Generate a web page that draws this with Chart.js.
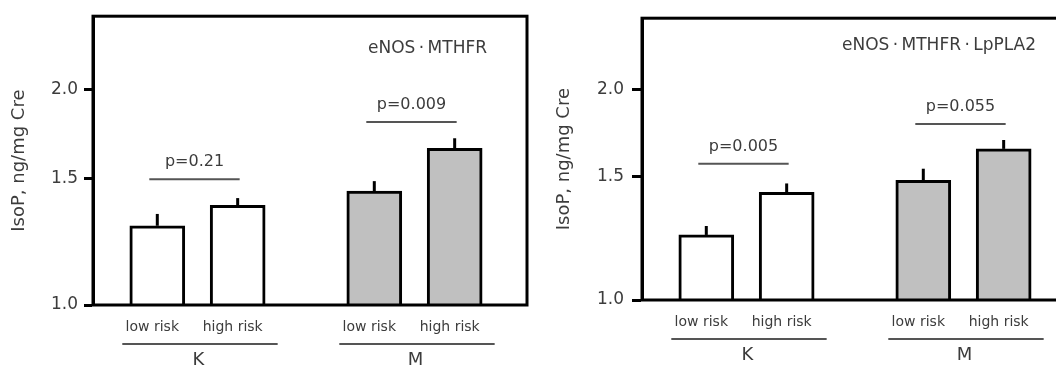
<!DOCTYPE html>
<html>
<head>
<meta charset="utf-8">
<script src="https://cdn.jsdelivr.net/npm/chart.js@4"></script>
<style>
  body { margin: 0; background: #ffffff; overflow: hidden; width: 1056px; height: 365px; position: relative; }
  .panel { position: absolute; top: 0; height: 365px; }
</style>
</head>
<body>
<div class="panel" style="left:0; width:540px;"><canvas id="chartLeft"></canvas></div>
<div class="panel" style="left:530px; width:560px;"><canvas id="chartRight"></canvas></div>
<script>
// ---------- data ---------- //
const riskLabels = ['low risk', 'high risk', 'low risk', 'high risk'];
const groupLabels = ['K', 'M'];
const barPositions = [1, 2, 3.7, 4.7];
const barColors = ['#ffffff', '#ffffff', '#c0c0c0', '#c0c0c0'];
const yTicks = [1.0, 1.5, 2.0];
const yTitle = 'IsoP, ng/mg Cre';

// left panel
const titleLeft = 'eNOS\u2009·\u2009MTHFR';
const meansLeft = [1.29, 1.378, 1.442, 1.655];
const errLeft = [0.05, 0.032, 0.047, 0.054];
const pTextLeft = ['p=0.21', 'p=0.009'];
const pLevelLeft = [1.498, 1.80];

// right panel
const titleRight = 'eNOS\u2009·\u2009MTHFR\u2009·\u2009LpPLA2';
const meansRight = [1.239, 1.426, 1.483, 1.645];
const errRight = [0.037, 0.042, 0.058, 0.049];
const pTextRight = ['p=0.005', 'p=0.055'];
const pLevelRight = [1.567, 1.785];

const FONT = 'DejaVu Sans';
const TEXT_COLOR = '#3c3c3c';
const LINE_GRAY = '#555555';

// ---------- helpers ---------- //

// Draws whiskers, frame, category labels, group bars and p-value brackets
function makeAnnotations(means, errs, pText, pLevel, title, titleDy)
{
  return {
    id: 'annotations',
    afterDraw(chart) {
      const ctx = chart.ctx;
      const xs = chart.scales.x;
      const ys = chart.scales.y;
      const area = chart.chartArea;
      ctx.save();

      // error whiskers (upper only)
      ctx.strokeStyle = '#000000';
      ctx.lineWidth = 3;
      for (let i = 0; i < means.length; i++) {
        const x = xs.getPixelForValue(barPositions[i]);
        ctx.beginPath();
        ctx.moveTo(x, ys.getPixelForValue(means[i]));
        ctx.lineTo(x, ys.getPixelForValue(means[i] + errs[i]));
        ctx.stroke();
      }

      // plot frame
      ctx.strokeRect(area.left, area.top, area.right - area.left, area.bottom - area.top);

      // category labels
      ctx.fillStyle = TEXT_COLOR;
      ctx.textAlign = 'center';
      ctx.textBaseline = 'middle';
      ctx.font = '14px "' + FONT + '"';
      for (let i = 0; i < riskLabels.length; i++) {
        ctx.fillText(riskLabels[i], xs.getPixelForValue(barPositions[i]) - 5, area.bottom + 22);
      }

      // group underlines and letters
      for (let g = 0; g < groupLabels.length; g++) {
        const x1 = xs.getPixelForValue(barPositions[2 * g]);
        const x2 = xs.getPixelForValue(barPositions[2 * g + 1]);
        ctx.strokeStyle = LINE_GRAY;
        ctx.lineWidth = 2;
        ctx.beginPath();
        ctx.moveTo(x1 - 35, area.bottom + 39);
        ctx.lineTo(x2 + 40, area.bottom + 39);
        ctx.stroke();
        ctx.font = '18px "' + FONT + '"';
        ctx.textBaseline = 'top';
        ctx.fillText(groupLabels[g], (x1 + x2) / 2 + 1, area.bottom + 46);

        // p-value bracket
        const py = ys.getPixelForValue(pLevel[g]);
        ctx.beginPath();
        ctx.moveTo(x1 - 8, py);
        ctx.lineTo(x2 + 2, py);
        ctx.stroke();
        ctx.font = '16px "' + FONT + '"';
        ctx.textBaseline = 'middle';
        ctx.fillText(pText[g], (x1 + x2) / 2 - 3, py - 17);
      }

      // panel title
      ctx.font = '17px "' + FONT + '"';
      ctx.textAlign = 'right';
      ctx.fillText(title, area.right - 40, area.top + titleDy);
      ctx.restore();
    }
  };
}

// Builds one panel of the figure
function displayPanel(canvasId, means, errs, pText, pLevel, title, layout)
{
  const ctx = document.getElementById(canvasId);
  new Chart(ctx, {
    type: 'bar',
    data: {
      datasets: [{
        data: barPositions.map((x, i) => ({ x: x, y: means[i] })),
        backgroundColor: barColors,
        borderColor: '#000000',
        borderWidth: 3,
        borderSkipped: 'start',
        barThickness: 55,
        base: 1
      }]
    },
    options: {
      responsive: true,
      maintainAspectRatio: false,
      animation: false,
      events: [],
      layout: {
        padding: { left: 0, top: 16, right: layout.padRight, bottom: layout.padBottom }
      },
      plugins: {
        legend: { display: false },
        tooltip: { enabled: false }
      },
      scales: {
        x: {
          type: 'linear',
          display: false,
          offset: false,
          min: 0.2,
          max: 5.6
        },
        y: {
          type: 'logarithmic',
          min: 1,
          max: 2.53,
          afterBuildTicks: function (scale) {
            scale.ticks = yTicks.map(v => ({ value: v }));
          },
          afterFit: function (scale) {
            scale.width = layout.axisWidth;
          },
          ticks: {
            callback: v => Number(v).toFixed(1),
            color: TEXT_COLOR,
            padding: layout.tickPad,
            font: { family: FONT, size: 17 }
          },
          grid: {
            drawOnChartArea: false,
            drawTicks: true,
            tickLength: layout.tickLen,
            tickWidth: 3,
            tickColor: '#000000'
          },
          border: { display: true, color: '#000000', width: 3 },
          title: {
            display: true,
            text: yTitle,
            color: TEXT_COLOR,
            padding: { top: layout.titlePad, bottom: 0 },
            font: { family: FONT, size: 18 }
          }
        }
      }
    },
    plugins: [makeAnnotations(means, errs, pText, pLevel, title, layout.titleDy)]
  });
}

displayPanel('chartLeft', meansLeft, errLeft, pTextLeft, pLevelLeft, titleLeft,
  { axisWidth: 93, padRight: 13, padBottom: 60, tickLen: 9, tickPad: 6, titlePad: 9, titleDy: 32 });
displayPanel('chartRight', meansRight, errRight, pTextRight, pLevelRight, titleRight,
  { axisWidth: 112, padRight: 14, padBottom: 65, tickLen: 10, tickPad: 8, titlePad: 24, titleDy: 27 });
</script>
</body>
</html>
